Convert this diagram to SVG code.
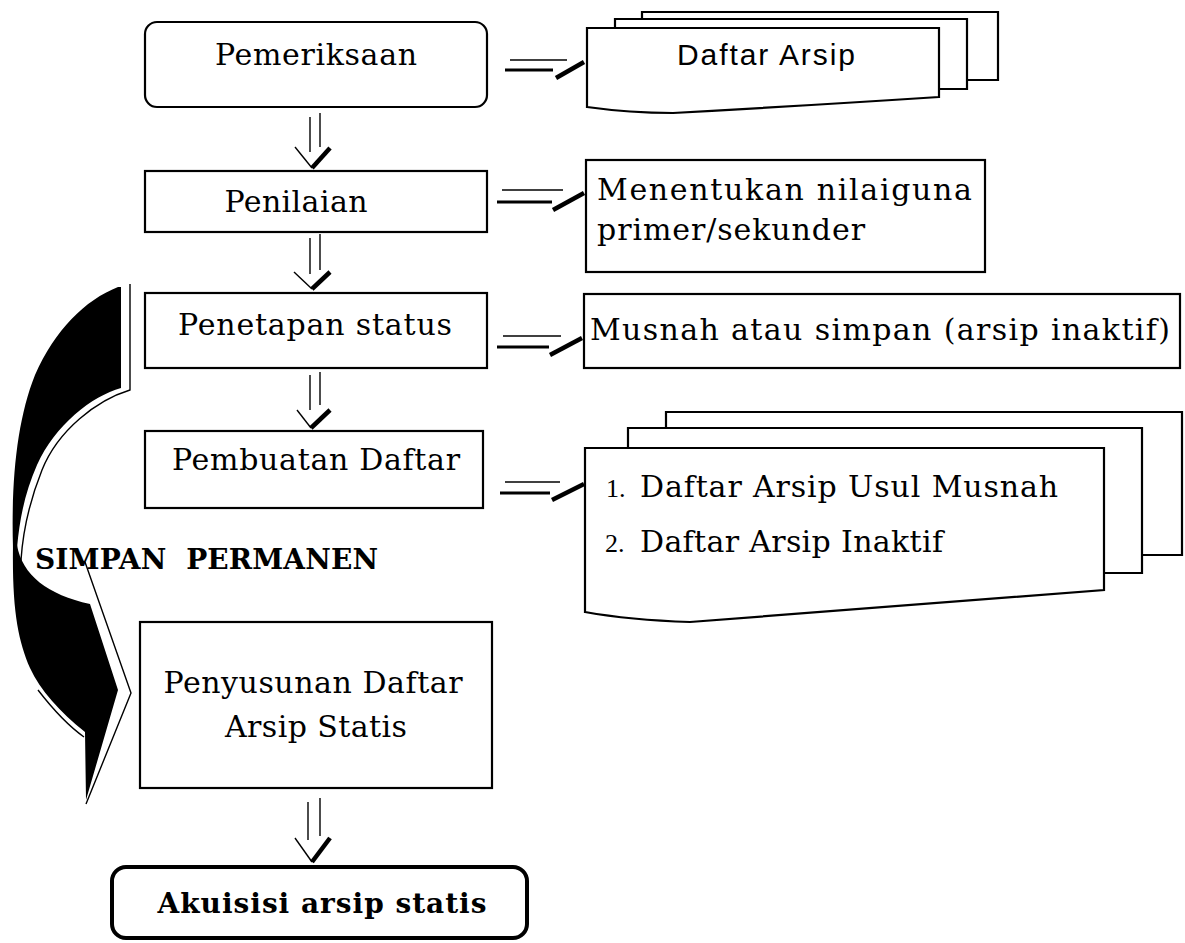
<svg xmlns="http://www.w3.org/2000/svg" width="1185" height="943" viewBox="0 0 1185 943">
<style>
.bx{fill:#fff;stroke:#000;stroke-width:2.2}
.t{font-family:"DejaVu Serif","Liberation Serif",serif;font-size:30px;fill:#000}
.tb{font-family:"DejaVu Serif","Liberation Serif",serif;font-size:28px;font-weight:bold;fill:#000}
.ts{font-family:"Liberation Sans",Arial,sans-serif;font-size:30px;fill:#000}
.tn{font-family:"Liberation Serif",serif;font-size:26px;fill:#000}
.thin{stroke:#000;stroke-width:1.4;fill:none}
.thick{stroke:#000;stroke-width:3.2;fill:none}
.slash{stroke:#000;stroke-width:4.5;fill:none;stroke-linecap:butt}
</style>
<rect width="1185" height="943" fill="#fff"/>

<!-- curved SIMPAN PERMANEN arrow -->
<g id="curved-arrow">
  <path fill="#000" d="M118,287 L121,287 L121,388 C92,396 55,425 37,465 C26,490 20,515 17,548 L13,548 C11,480 17,420 35,375 C55,330 85,300 118,287 Z"/>
  <path class="thin" d="M130,284 L130,390 C97,400 58,430 42,470 C30,500 23,530 21,560"/>
  <path fill="#000" d="M13,545 L17,545 C22,575 48,595 90,604 L118,690 L86,800 L85,732 C60,712 40,690 30,668 C18,640 12,610 13,545 Z"/>
  <path class="thin" d="M21,560 C23,600 26,630 32,650 M38,690 C55,712 70,727 84,737 M85,562 L131,693 L86,804"/>
</g>

<!-- connectors -->
<g id="connectors">
  <g id="down1">
    <line class="thin" x1="310" y1="117" x2="310" y2="152"/>
    <line class="thin" x1="320" y1="113" x2="320" y2="147"/>
    <polyline class="thin" points="295,147 312,168"/>
    <polyline class="slash" points="312,168 330,148"/>
  </g>
  <g id="down2">
    <line class="thin" x1="310" y1="238" x2="310" y2="274"/>
    <line class="thin" x1="320" y1="234" x2="320" y2="270"/>
    <polyline class="thin" points="294,272 312,289"/>
    <polyline class="slash" points="312,289 330,272"/>
  </g>
  <g id="down3">
    <line class="thin" x1="310" y1="375" x2="310" y2="410"/>
    <line class="thin" x1="320" y1="372" x2="320" y2="405"/>
    <polyline class="thin" points="297,410 311,428"/>
    <polyline class="slash" points="311,428 330,410"/>
  </g>
  <g id="down4">
    <line class="thin" x1="308" y1="802" x2="308" y2="840"/>
    <line class="thin" x1="320" y1="798" x2="320" y2="836"/>
    <polyline class="thin" points="295,838 312,862"/>
    <polyline class="slash" points="312,862 330,838"/>
  </g>
  <g id="right1">
    <line class="thin" x1="510" y1="60" x2="567" y2="60"/>
    <line class="thick" x1="505" y1="70" x2="553" y2="70"/>
    <line class="slash" x1="556" y1="78" x2="584" y2="62"/>
  </g>
  <g id="right2">
    <line class="thin" x1="502" y1="190" x2="563" y2="190"/>
    <line class="thick" x1="497" y1="202" x2="552" y2="202"/>
    <line class="slash" x1="553" y1="210" x2="584" y2="193"/>
  </g>
  <g id="right3">
    <line class="thin" x1="503" y1="336" x2="561" y2="336"/>
    <line class="thick" x1="497" y1="347" x2="549" y2="347"/>
    <line class="slash" x1="550" y1="355" x2="582" y2="338"/>
  </g>
  <g id="right4">
    <line class="thin" x1="505" y1="482" x2="560" y2="482"/>
    <line class="thick" x1="500" y1="493" x2="550" y2="493"/>
    <line class="slash" x1="552" y1="500" x2="584" y2="484"/>
  </g>
</g>

<g id="pemeriksaan">
  <rect class="bx" x="145" y="22" width="342" height="85" rx="12"/>
  <text class="t" x="316" y="65" text-anchor="middle" textLength="202">Pemeriksaan</text>
</g>
<g id="daftar-arsip">
  <path class="bx" d="M642,80 L642,12 L998,12 L998,80 Z"/>
  <path class="bx" d="M615,89 L615,19 L967,19 L967,89 Z"/>
  <path class="bx" d="M587,107 L587,28 L939,28 L939,97 Q800,106 673,113 Q630,113 587,107 Z"/>
  <text class="ts" x="766" y="65" text-anchor="middle" textLength="178">Daftar Arsip</text>
</g>
<g id="penilaian">
  <rect class="bx" x="145" y="171" width="342" height="61"/>
  <text class="t" x="296" y="212" text-anchor="middle" textLength="143">Penilaian</text>
</g>
<g id="menentukan">
  <rect class="bx" x="586" y="160" width="399" height="112"/>
  <text class="t" x="597" y="200" textLength="375">Menentukan nilaiguna</text>
  <text class="t" x="597" y="240" textLength="268">primer/sekunder</text>
</g>
<g id="penetapan">
  <rect class="bx" x="145" y="293" width="342" height="75"/>
  <text class="t" x="315" y="335" text-anchor="middle" textLength="274">Penetapan status</text>
</g>
<g id="musnah">
  <rect class="bx" x="584" y="294" width="596" height="74"/>
  <text class="t" x="590" y="340" textLength="580">Musnah atau simpan (arsip inaktif)</text>
</g>
<g id="pembuatan">
  <rect class="bx" x="145" y="431" width="338" height="77"/>
  <text class="t" x="316" y="470" text-anchor="middle" textLength="288">Pembuatan Daftar</text>
</g>
<g id="daftar-list">
  <path class="bx" d="M666,555 L666,412 L1182,412 L1182,555 Z"/>
  <path class="bx" d="M628,573 L628,428 L1142,428 L1142,573 Z"/>
  <path class="bx" d="M585,612 L585,448 L1104,448 L1104,590 Q900,605 690,622 Q630,620 585,612 Z"/>
  <text class="tn" x="606" y="497">1.</text>
  <text class="t" x="640" y="497" textLength="418">Daftar Arsip Usul Musnah</text>
  <text class="tn" x="605" y="552">2.</text>
  <text class="t" x="640" y="552" textLength="303">Daftar Arsip Inaktif</text>
</g>
<g id="simpan-label">
  <text class="tb" x="35" y="569" textLength="343" xml:space="preserve">SIMPAN  PERMANEN</text>
</g>
<g id="penyusunan">
  <rect class="bx" x="140" y="622" width="352" height="166"/>
  <text class="t" x="313" y="693" text-anchor="middle" textLength="299">Penyusunan Daftar</text>
  <text class="t" x="316" y="737" text-anchor="middle" textLength="182">Arsip Statis</text>
</g>
<g id="akuisisi">
  <rect x="112" y="867" width="415" height="71" rx="14" fill="#fff" stroke="#000" stroke-width="4"/>
  <text class="tb" x="322" y="913" text-anchor="middle" textLength="329">Akuisisi arsip statis</text>
</g>
</svg>
